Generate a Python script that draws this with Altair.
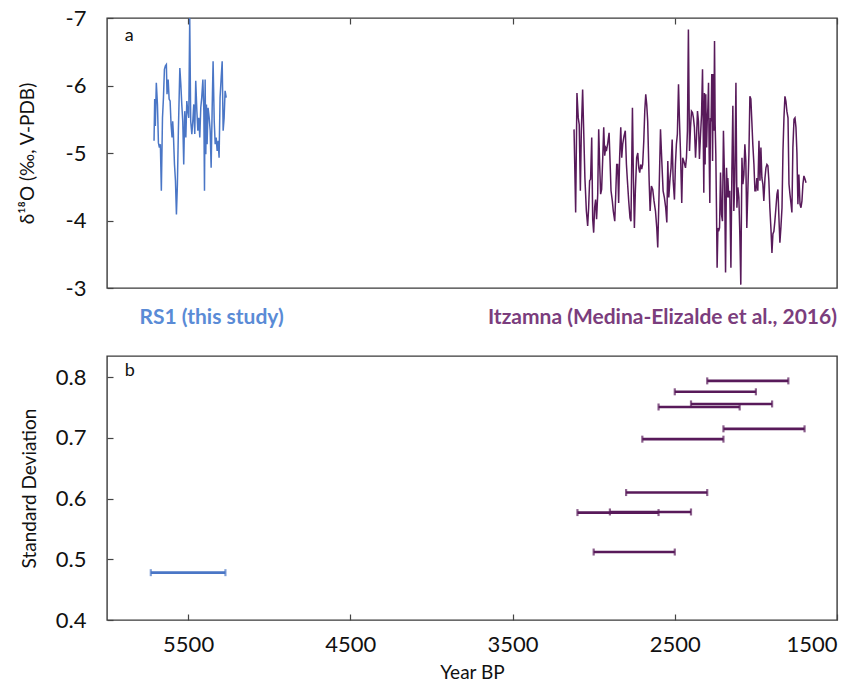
import altair as alt
import pandas as pd

# ---------------- data ----------------
rs1_year = [5710, 5706, 5702, 5696, 5689, 5683, 5677, 5671, 5665, 5658, 5652, 5646, 5640, 5634,
            5630, 5623, 5617, 5611, 5605, 5599, 5595, 5591, 5584, 5578, 5572, 5566, 5560, 5551,
            5545, 5539, 5533, 5527, 5521, 5514, 5508, 5502, 5496, 5490, 5484, 5477, 5471, 5465,
            5459, 5453, 5446, 5440, 5434, 5428, 5422, 5416, 5409, 5403, 5399, 5395, 5391, 5387,
            5383, 5377, 5370, 5364, 5358, 5352, 5346, 5339, 5333, 5327, 5321, 5315, 5309, 5303,
            5296, 5290, 5284, 5278, 5272, 5265]
rs1_d18o = [-5.18, -5.80, -5.40, -6.04, -5.72, -5.15, -5.08, -5.13, -4.44, -5.52, -5.82, -6.24,
            -6.29, -6.31, -5.87, -6.09, -5.80, -5.77, -5.42, -5.23, -5.47, -5.30, -4.83, -4.59,
            -4.09, -4.54, -5.33, -6.26, -6.02, -5.72, -5.47, -4.83, -5.62, -5.23, -5.77, -5.62,
            -5.52, -7.00, -5.47, -5.28, -5.47, -5.72, -5.28, -6.07, -5.62, -5.33, -5.52, -5.23,
            -5.67, -5.82, -6.09, -5.62, -4.44, -6.09, -4.98, -5.72, -5.13, -5.67, -5.52, -5.33,
            -4.78, -5.62, -6.36, -5.47, -5.13, -5.23, -5.03, -5.18, -4.93, -5.82, -6.12, -6.36,
            -5.33, -5.52, -5.92, -5.82]

itz_year = [3121, 3111, 3103, 3095, 3089, 3082, 3076, 3068, 3062, 3054, 3045, 3037, 3031, 3025,
            3019, 3012, 3006, 3000, 2994, 2988, 2982, 2975, 2969, 2963, 2957, 2951, 2944, 2938,
            2932, 2926, 2920, 2914, 2905, 2899, 2893, 2885, 2879, 2870, 2864, 2858, 2852, 2846,
            2840, 2833, 2827, 2821, 2813, 2805, 2798, 2792, 2784, 2776, 2770, 2761, 2755, 2749,
            2743, 2735, 2728, 2722, 2716, 2710, 2704, 2698, 2691, 2685, 2679, 2673, 2667,
            2658, 2652, 2644, 2636, 2628, 2619, 2611, 2605, 2597, 2588, 2580, 2572, 2564, 2556,
            2549, 2543, 2537, 2529, 2523, 2516, 2510, 2502, 2496, 2490, 2484, 2477, 2471, 2465,
            2457, 2451, 2442, 2434, 2428, 2422, 2416, 2409, 2403, 2397, 2391, 2385, 2379, 2372,
            2366, 2360, 2354, 2348, 2342, 2335, 2329, 2325, 2321, 2317, 2313, 2309, 2304, 2300,
            2296, 2292, 2288, 2284, 2280, 2276, 2272, 2267, 2263, 2259, 2255, 2251, 2247, 2243,
            2239, 2234, 2230, 2224, 2218, 2212, 2206, 2200, 2193, 2187, 2181, 2175,
            2173, 2167, 2161, 2154, 2148, 2142, 2136, 2130, 2123, 2117, 2111, 2105, 2099, 2093,
            2086, 2080, 2074, 2068, 2062, 2056, 2049, 2043, 2037, 2031, 2025, 2019, 2012, 2006,
            2000, 1994, 1988, 1981, 1975, 1969, 1963, 1957, 1951, 1944, 1938, 1932, 1926, 1920,
            1914, 1907, 1901, 1895, 1889, 1883, 1877, 1870, 1864, 1858, 1852, 1846, 1839, 1833,
            1827, 1821, 1815, 1809, 1802, 1796, 1790, 1784, 1778, 1772, 1765, 1759, 1753, 1747,
            1741, 1735, 1728, 1722, 1716, 1710, 1704, 1697, 1691]
itz_d18o = [-5.35, -4.12, -5.89, -5.52, -5.42, -4.44, -5.33, -5.94, -5.38, -4.63, -4.14, -3.92,
            -4.19, -4.59, -4.61, -5.23, -4.02, -3.82, -4.19, -4.31, -4.02, -4.39, -5.35, -4.83,
            -4.39, -4.46, -4.93, -5.38, -4.96, -5.08, -5.05, -5.13, -5.30, -4.88, -4.44, -4.29,
            -4.14, -3.99, -4.39, -4.83, -4.83, -4.26, -4.93, -5.38, -4.93, -5.13, -5.25, -5.33,
            -4.83, -4.59, -4.29, -4.04, -3.99, -5.67, -4.63, -3.89, -4.44, -4.93, -5.00, -4.78,
            -4.71, -4.83, -4.76, -4.83, -5.18, -5.62, -5.87, -5.72, -5.47,
            -4.59, -4.14, -4.51, -4.46, -4.29, -4.14, -3.89, -3.60, -4.39, -5.35, -4.88, -4.44,
            -4.34, -4.19, -3.97, -4.88, -4.34, -4.63, -4.78, -5.20, -4.59, -4.31, -4.83, -5.13,
            -5.28, -6.02, -5.47, -5.03, -4.26, -4.93, -4.86, -4.78, -4.93, -5.33, -6.83, -5.03,
            -5.38, -5.62, -5.60, -5.52, -5.38, -4.93, -5.23, -5.62, -5.47, -4.91, -5.23, -5.57,
            -6.24, -5.42, -4.41, -5.89, -4.83, -5.87, -5.08, -5.47, -5.67, -6.04, -4.98, -4.26,
            -5.52, -5.47, -6.17, -4.88, -6.17, -5.33, -6.66, -5.42, -4.98, -4.19, -3.30, -3.89,
            -3.84, -3.89, -4.71, -4.09, -3.99, -5.33, -4.59, -3.23, -4.78, -4.34,
            -4.63, -4.34, -4.44, -3.30, -4.73, -5.70, -4.14, -4.59, -6.04, -4.19, -4.49, -4.34,
            -3.80, -3.05, -4.93, -4.54, -4.68, -5.13, -4.88, -3.89, -4.49, -4.98, -5.84, -5.80,
            -5.47, -5.13, -4.83, -4.44, -4.44, -4.63, -4.44, -5.18, -4.59, -5.08, -4.63, -4.54,
            -4.29, -4.63, -4.78, -4.83, -4.81, -4.59, -4.19, -3.87, -3.52, -3.80, -3.84, -3.99,
            -4.17, -4.39, -4.46, -4.04, -3.67, -3.89, -4.19, -5.03, -5.52, -5.84, -5.77, -5.62,
            -5.52, -4.54, -4.39, -4.26, -4.12, -5.08, -5.50, -5.52, -5.38, -5.00, -4.24, -4.68,
            -4.24, -4.19, -4.29, -4.54, -4.66, -4.61, -4.56]

sd_record = ["RS1", "Itzamna", "Itzamna", "Itzamna", "Itzamna", "Itzamna",
             "Itzamna", "Itzamna", "Itzamna", "Itzamna", "Itzamna"]
sd_start = [5730, 3100, 3000, 2900, 2800, 2700, 2600, 2500, 2400, 2300, 2200]
sd_end = [5270, 2600, 2500, 2400, 2300, 2200, 2100, 2000, 1900, 1800, 1700]
sd_value = [0.478, 0.577, 0.512, 0.578, 0.610, 0.698, 0.751, 0.776, 0.756, 0.794, 0.715]

x_ticks = [5500, 4500, 3500, 2500, 1500]
y_ticks_top = [-7, -6, -5, -4, -3]
y_ticks_bottom = [0.4, 0.5, 0.6, 0.7, 0.8]

series_labels = ["RS1 (this study)", "Itzamna (Medina-Elizalde et al., 2016)"]
series_label_year = [5355, 1500]
series_label_value = [-2.55, -2.55]
series_label_record = ["RS1", "Itzamna"]

panel_letters = ["a", "b"]
panel_letter_year = [5890, 5890]
panel_letter_top = [-6.74]
panel_letter_bottom = [0.81]

# ---------------- styling ----------------
FONT = "Lato"
LINE_COLORS = ["#4A76C6", "#581A5A"]
BAR_COLORS = ["#5B9BDE", "#581A5A"]
LABEL_COLORS = ["#5A8BD6", "#7B3D7D"]
REC = ["RS1", "Itzamna"]

W = 730
xscale = alt.Scale(domain=[1500, 6000], reverse=True, nice=False, zero=False)
yscale_top = alt.Scale(domain=[-7, -3], reverse=True, nice=False, zero=False)
yscale_bot = alt.Scale(domain=[0.4, 0.835], nice=False, zero=False)

TICK = dict(domain=False, tickSize=6, offset=-6, tickColor="#444", tickWidth=1.2, grid=False)

x_axis_top = alt.Axis(orient="top", values=x_ticks, labels=False, title=None, **TICK)
y_axis_top = alt.Axis(values=y_ticks_top, title="δ¹⁸O (‰, V-PDB)",
                      labelExpr="'-' + format(abs(datum.value), 'd')",
                      labelPadding=21, titlePadding=28, titleFontSize=19, **TICK)
x_axis_bot = alt.Axis(values=x_ticks, title="Year BP", format="d",
                      labelPadding=14, titlePadding=8, **TICK)
y_axis_bot = alt.Axis(values=y_ticks_bottom, format=".1f", title="Standard Deviation",
                      labelPadding=21, titlePadding=16, **TICK)

def xt(field):
    return alt.X(field, scale=xscale, axis=x_axis_top)

def yt(field):
    return alt.Y(field, scale=yscale_top, axis=y_axis_top)

def xb(field):
    return alt.X(field, scale=xscale, axis=x_axis_bot)

def yb(field):
    return alt.Y(field, scale=yscale_bot, axis=y_axis_bot)

# ---------------- top panel ----------------
ts = pd.concat([
    pd.DataFrame({"year": rs1_year, "d18o": rs1_d18o, "record": "RS1"}),
    pd.DataFrame({"year": itz_year, "d18o": itz_d18o, "record": "Itzamna"}),
])

lines = alt.Chart(ts).mark_line(strokeWidth=1.5, clip=True).encode(
    x=xt("year:Q"),
    y=yt("d18o:Q"),
    color=alt.Color("record:N", scale=alt.Scale(domain=REC, range=LINE_COLORS), legend=None),
    detail="record:N",
)

lab_df = pd.DataFrame({"label": series_labels, "year": series_label_year,
                       "val": series_label_value, "record": series_label_record})
lab_rs1 = alt.Chart(lab_df[lab_df.record == "RS1"]).mark_text(
    font=FONT, fontSize=21, fontWeight="bold", align="center", baseline="middle",
    color=LABEL_COLORS[0]).encode(x=xt("year:Q"), y=yt("val:Q"), text="label:N")
lab_itz = alt.Chart(lab_df[lab_df.record == "Itzamna"]).mark_text(
    font=FONT, fontSize=21, fontWeight="bold", align="right", baseline="middle",
    color=LABEL_COLORS[1]).encode(x=xt("year:Q"), y=yt("val:Q"), text="label:N")

letter_a = alt.Chart(pd.DataFrame({"t": [panel_letters[0]], "year": [panel_letter_year[0]],
                                   "val": panel_letter_top})).mark_text(
    font=FONT, fontSize=18, align="left", baseline="middle", color="#111").encode(
    x=xt("year:Q"), y=yt("val:Q"), text="t:N")

top = alt.layer(lines, lab_rs1, lab_itz, letter_a).properties(width=W, height=270)

# ---------------- bottom panel ----------------
sd = pd.DataFrame({"record": sd_record, "start": sd_start, "end": sd_end, "sd": sd_value})
caps = pd.concat([
    pd.DataFrame({"record": sd_record, "year": sd_start, "sd": sd_value}),
    pd.DataFrame({"record": sd_record, "year": sd_end, "sd": sd_value}),
])

bars = alt.Chart(sd).mark_rule(strokeWidth=2.6).encode(
    x=xb("start:Q"),
    x2="end:Q",
    y=yb("sd:Q"),
    color=alt.Color("record:N", scale=alt.Scale(domain=REC, range=BAR_COLORS), legend=None),
)
cap_marks = alt.Chart(caps).mark_tick(orient="vertical", size=7, thickness=2.2).encode(
    x=xb("year:Q"),
    y=yb("sd:Q"),
    color=alt.Color("record:N", scale=alt.Scale(domain=REC, range=BAR_COLORS), legend=None),
)
letter_b = alt.Chart(pd.DataFrame({"t": [panel_letters[1]], "year": [panel_letter_year[1]],
                                   "val": panel_letter_bottom})).mark_text(
    font=FONT, fontSize=18, align="left", baseline="middle", color="#111").encode(
    x=xb("year:Q"), y=yb("val:Q"), text="t:N")

bottom = alt.layer(bars, cap_marks, letter_b).properties(width=W, height=264)

chart = alt.vconcat(top, bottom, spacing=68, bounds="flush").properties(
    padding={"left": 17, "top": 6, "right": 8, "bottom": 4}
).configure_view(
    stroke="#3a3a3a", strokeWidth=1.4
).configure_axis(
    labelFont=FONT, titleFont=FONT, labelFontSize=22, titleFontSize=19,
    labelColor="#111", titleColor="#111", titleFontWeight="normal"
)

chart.save("out.html", embed_options={"renderer": "svg", "actions": False})
